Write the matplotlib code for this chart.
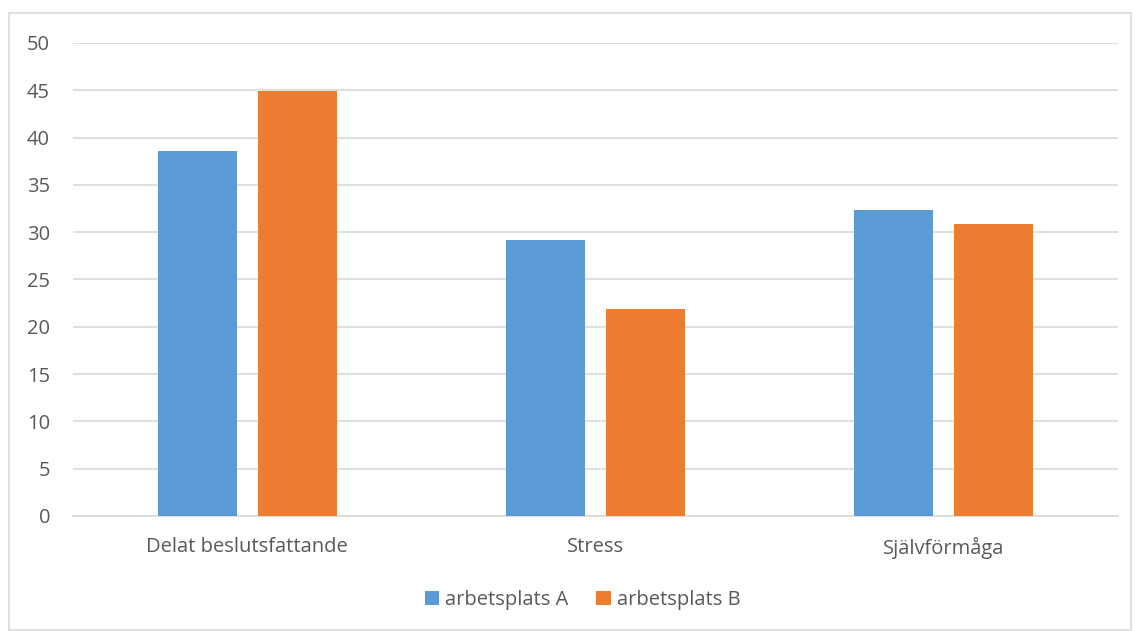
import numpy as np
import matplotlib.pyplot as plt
from matplotlib.patches import Rectangle

categories = ['Delat beslutsfattande', 'Stress', 'Självförmåga']
series_names = ['arbetsplats A', 'arbetsplats B']
values_a = [38.6, 29.2, 32.3]
values_b = [44.9, 21.9, 30.9]

plt.rcParams['font.family'] = ['Open Sans', 'DejaVu Sans']

fig = plt.figure(figsize=(11.35, 6.31), dpi=100)
ax = fig.add_axes([0.0643, 0.1823, 0.9207, 0.7496])

# outer chart border
fig.patches.append(Rectangle((9 / 1135, 0.002), 1122 / 1135, 1 - 13 / 631 - 0.002,
                             transform=fig.transFigure, fill=False,
                             edgecolor='#d9d9d9', linewidth=1.2))

x = np.arange(len(categories))
w = 0.227
off = 0.1435
ax.bar(x - off, values_a, w, color='#5B9BD5', label=series_names[0], zorder=3)
ax.bar(x + off, values_b, w, color='#ED7D31', label=series_names[1], zorder=3)

ax.set_xlim(-0.5, 2.5)
ax.set_ylim(0, 50)
ax.set_yticks(range(0, 51, 5))
ax.set_xticks(x)
ax.set_xticklabels(categories)
ax.grid(axis='y', color='#d9d9d9', linewidth=1.2, zorder=0)
for s in ax.spines.values():
    s.set_visible(False)
ax.spines['bottom'].set_visible(True)
ax.spines['bottom'].set_color('#d9d9d9')
ax.spines['bottom'].set_linewidth(1.2)
ax.tick_params(axis='both', length=0, colors='#595959', labelsize=14.5)
ax.tick_params(axis='y', pad=16.5)
ax.tick_params(axis='x', pad=15)

ax.legend(loc='center', bbox_to_anchor=(0.4876, -0.178), ncol=2, frameon=False,
          fontsize=14.5, labelcolor='#595959', handlelength=0.7, handleheight=0.7,
          handletextpad=0.3, columnspacing=1.4)

fig.savefig('out.png', dpi=100)
